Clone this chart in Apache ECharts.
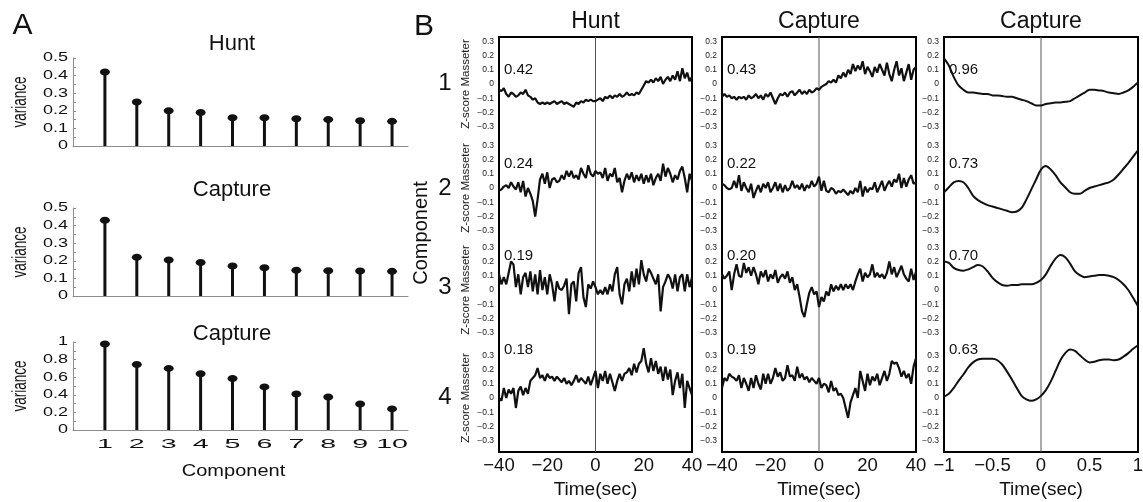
<!DOCTYPE html>
<html><head><meta charset="utf-8">
<script src="https://cdn.jsdelivr.net/npm/echarts/dist/echarts.min.js"></script>
<style>html,body{margin:0;padding:0;background:#fff}#c{width:1143px;height:502px}</style>
</head><body><div id="c"></div>
<script>
// ---------- Panel A data ----------
const components = [1,2,3,4,5,6,7,8,9,10];
const varHunt     = [0.42,0.25,0.20,0.19,0.16,0.16,0.155,0.15,0.144,0.14];
const varCapture  = [0.43,0.22,0.205,0.19,0.17,0.16,0.146,0.144,0.142,0.14];
const varCapture2 = [0.977,0.745,0.70,0.64,0.585,0.49,0.41,0.376,0.296,0.24];
const yTicksSmall = [0,0.1,0.2,0.3,0.4,0.5];
const yTickLabelsSmall = ['0','0.1','0.2','0.3','0.4','0.5'];
const yTicksLarge = [0,0.2,0.4,0.6,0.8,1];
const yTickLabelsLarge = ['0','0.2','0.4','0.6','0.8','1'];
const compLabels = ['1','2','3','4','5','6','7','8','9','10'];

// ---------- Panel B data ----------
const timeSec = [-40,-39,-38,-37,-36,-35,-34,-33,-32,-31,-30,-29,-28,-27,-26,-25,-24,-23,-22,-21,
 -20,-19,-18,-17,-16,-15,-14,-13,-12,-11,-10,-9,-8,-7,-6,-5,-4,-3,-2,-1,
 0,1,2,3,4,5,6,7,8,9,10,11,12,13,14,15,16,17,18,19,20,21,22,23,24,25,26,27,28,29,
 30,31,32,33,34,35,36,37,38,39,40];
const timeShort = [-1,-0.95,-0.9,-0.85,-0.8,-0.75,-0.7,-0.65,-0.6,-0.55,-0.5,-0.45,-0.4,-0.35,-0.3,-0.25,-0.2,-0.15,-0.1,-0.05,
 0,0.05,0.1,0.15,0.2,0.25,0.3,0.35,0.4,0.45,0.5,0.55,0.6,0.65,0.7,0.75,0.8,0.85,0.9,0.95,1];

const huntRow1 = [-0.04,-0.05,-0.03,-0.07,-0.09,-0.06,-0.07,-0.09,-0.08,-0.06,
 -0.07,-0.04,-0.08,-0.09,-0.11,-0.10,-0.13,-0.14,-0.13,-0.14,
 -0.13,-0.14,-0.13,-0.12,-0.14,-0.13,-0.12,-0.14,-0.13,-0.14,
 -0.15,-0.16,-0.13,-0.14,-0.12,-0.13,-0.11,-0.12,-0.11,-0.12,
 -0.12,-0.11,-0.10,-0.12,-0.09,-0.10,-0.08,-0.10,-0.08,-0.09,
 -0.07,-0.09,-0.08,-0.06,-0.08,-0.07,-0.08,-0.06,-0.07,-0.04,
 -0.01,0.02,0.01,0.03,0.01,0.04,0.02,0.05,0.00,0.03,
 0.05,0.02,0.06,0.03,0.09,0.02,0.11,0.04,0.08,0.02,0.05];
const huntRow2 = [-0.02,-0.01,0.01,0.02,0.00,0.04,0.01,-0.01,0.04,-0.03,
 0.05,-0.06,0.00,-0.04,-0.09,-0.20,-0.08,0.06,0.10,0.03,
 0.11,0.00,0.06,0.07,0.04,0.05,0.09,0.06,0.12,0.08,
 0.12,0.07,0.09,0.06,0.14,0.10,0.07,0.16,0.10,0.08,
 0.12,0.10,0.11,0.07,0.14,0.05,0.10,0.08,0.14,0.04,
 0.07,-0.03,0.05,0.10,0.06,0.11,0.04,0.09,0.05,0.10,
 0.03,0.09,0.04,0.10,0.02,0.07,0.10,0.05,0.17,0.08,
 0.14,0.10,0.04,0.09,0.06,0.12,0.15,0.07,-0.03,0.10,0.05];
const huntRow3 = [0.11,0.04,0.09,0.04,0.12,0.20,0.18,0.02,0.11,-0.03,
 0.09,0.12,0.02,0.13,-0.01,0.11,-0.03,0.14,0.00,0.09,
 -0.03,0.11,0.04,-0.08,0.06,0.01,0.00,0.03,0.08,-0.17,
 0.04,0.06,-0.08,0.12,0.16,-0.05,-0.12,0.04,0.01,0.06,
 0.02,-0.03,0.00,-0.03,0.02,-0.03,0.04,-0.01,0.11,0.16,
 -0.03,-0.10,0.04,0.08,-0.01,0.13,0.02,0.15,0.04,0.21,
 0.11,0.06,0.15,0.12,0.08,0.04,0.11,-0.15,0.02,0.06,
 0.11,0.08,0.01,0.11,-0.01,0.09,0.11,-0.01,0.11,0.02,0.09];
const huntRow4 = [0.00,-0.02,0.07,0.00,0.06,0.03,0.07,-0.07,0.05,0.08,
 0.02,0.07,0.03,0.12,0.14,0.16,0.21,0.14,0.16,0.12,
 0.17,0.14,0.15,0.12,0.15,0.13,0.11,0.14,0.10,0.12,
 0.09,0.12,0.16,0.11,0.14,0.12,0.10,0.15,0.09,0.14,
 0.19,0.07,0.17,0.12,0.19,0.10,0.17,0.11,0.05,0.12,
 0.17,0.12,0.17,0.18,0.21,0.16,0.24,0.18,0.24,0.26,
 0.35,0.24,0.18,0.28,0.19,0.26,0.17,0.22,0.12,0.22,
 0.13,0.20,0.02,0.12,0.18,0.07,0.17,-0.07,0.12,0.07,0.02];

const capRow1 = [-0.09,-0.07,-0.09,-0.08,-0.10,-0.09,-0.11,-0.09,-0.10,-0.09,
 -0.11,-0.08,-0.10,-0.09,-0.07,-0.10,-0.08,-0.11,-0.07,-0.09,
 -0.06,-0.10,-0.14,-0.10,-0.07,-0.08,-0.06,-0.09,-0.06,-0.05,
 -0.08,-0.06,-0.04,-0.07,-0.05,-0.07,-0.04,-0.06,-0.05,-0.03,
 -0.04,-0.02,-0.01,0.00,0.02,0.01,0.03,0.01,0.06,0.04,
 0.08,0.05,0.10,0.07,0.14,0.09,0.13,0.10,0.16,0.07,
 0.12,0.09,0.05,0.12,0.08,0.14,0.10,0.06,0.15,0.07,
 0.02,0.10,0.16,0.06,0.11,0.02,0.08,0.14,0.03,0.10,0.12];
const capRow2 = [0.03,0.02,0.00,-0.01,0.00,0.05,0.00,0.09,-0.02,0.04,
 0.00,-0.03,0.03,-0.07,-0.02,0.02,-0.03,0.03,0.00,0.04,
 -0.03,0.00,0.04,-0.02,0.03,-0.03,0.02,-0.02,0.00,0.05,
 0.00,0.02,-0.01,0.03,-0.02,0.02,0.00,0.05,0.01,0.03,
 0.08,-0.02,0.05,-0.02,-0.03,0.00,-0.01,-0.04,-0.02,-0.03,
 -0.01,-0.03,-0.05,-0.02,-0.04,0.00,-0.03,0.05,-0.06,0.01,
 -0.03,0.00,-0.01,0.04,-0.03,0.01,0.05,-0.02,0.02,0.05,
 0.01,0.06,0.04,0.10,0.00,0.07,0.01,0.06,0.09,0.03,0.04];
const capRow3 = [0.11,0.08,0.10,0.13,0.00,0.11,0.18,0.10,0.09,0.19,
 0.12,0.16,0.10,0.16,0.11,0.04,0.13,0.09,0.14,0.06,
 0.11,0.08,0.14,0.05,0.09,0.11,0.08,0.13,0.05,0.09,
 0.00,0.04,-0.05,-0.15,-0.19,-0.10,-0.02,0.02,-0.03,-0.01,
 -0.12,-0.05,-0.08,-0.01,-0.04,0.04,-0.01,0.03,0.00,0.04,
 0.00,0.04,0.01,0.04,0.00,0.06,0.11,0.15,0.06,0.12,
 0.09,0.11,0.18,0.09,0.12,0.09,0.11,0.08,0.12,0.20,
 0.11,0.16,0.09,0.13,0.17,0.11,0.08,0.06,0.15,0.07,0.13];
const capRow4 = [0.07,0.14,0.12,0.17,0.15,0.14,0.12,0.16,0.07,0.14,
 0.10,0.05,0.14,0.07,0.16,0.10,0.06,0.17,0.10,0.17,
 0.10,0.14,0.21,0.15,0.18,0.12,0.14,0.23,0.15,0.16,
 0.12,0.22,0.14,0.17,0.13,0.15,0.11,0.14,0.12,0.10,
 0.14,0.07,0.10,0.09,0.04,0.12,0.05,0.07,0.02,0.03,
 0.00,-0.07,-0.14,-0.03,0.02,0.07,0.00,0.19,0.12,0.05,
 0.17,0.09,0.15,0.12,0.17,0.09,0.14,0.19,0.12,0.17,
 0.26,0.24,0.25,0.21,0.15,0.19,0.14,0.17,0.10,0.22,0.28];

const capShortRow1 = [0.18,0.13,0.05,-0.01,-0.04,-0.06,-0.06,-0.065,-0.07,-0.07,
 -0.08,-0.08,-0.085,-0.09,-0.09,-0.10,-0.11,-0.12,-0.135,-0.15,
 -0.15,-0.14,-0.135,-0.13,-0.13,-0.125,-0.12,-0.10,-0.08,-0.06,
 -0.04,-0.04,-0.045,-0.05,-0.06,-0.065,-0.07,-0.06,-0.045,-0.02,0.01];
const capShortRow2 = [-0.03,0.005,0.04,0.05,0.04,0.0,-0.055,-0.085,-0.105,-0.12,
 -0.13,-0.14,-0.15,-0.16,-0.17,-0.165,-0.14,-0.08,-0.01,0.06,
 0.13,0.155,0.13,0.09,0.04,0.005,-0.03,-0.04,-0.04,-0.02,
 0.0,0.01,0.02,0.03,0.04,0.06,0.095,0.135,0.175,0.22,0.265];
const capShortRow3 = [0.20,0.19,0.155,0.14,0.135,0.145,0.16,0.175,0.165,0.13,
 0.085,0.055,0.035,0.03,0.035,0.035,0.04,0.04,0.04,0.05,
 0.07,0.11,0.17,0.22,0.245,0.23,0.185,0.13,0.105,0.09,
 0.095,0.10,0.105,0.105,0.10,0.09,0.07,0.04,0.0,-0.055,-0.115];
const capShortRow4 = [0.01,0.03,0.07,0.12,0.165,0.215,0.25,0.27,0.275,0.275,
 0.275,0.265,0.235,0.185,0.13,0.07,0.015,-0.01,-0.02,-0.01,
 0.015,0.055,0.115,0.19,0.265,0.315,0.34,0.33,0.30,0.27,
 0.25,0.255,0.265,0.27,0.27,0.265,0.27,0.29,0.315,0.345,0.37];

const huntVarLabels = ['0.42','0.24','0.19','0.18'];
const capVarLabels = ['0.43','0.22','0.20','0.19'];
const capShortVarLabels = ['0.96','0.73','0.70','0.63'];
const rowNames = ['1','2','3','4'];

// ---------- build ----------
const FONT = '"Liberation Sans", Arial, Helvetica, sans-serif';
const INK = '#111';
const grids = [], xAxes = [], yAxes = [], series = [], graphics = [];

function addText(text, x, y, size, opts) {
  opts = opts || {};
  graphics.push({
    type: 'text', x: x, y: y, rotation: opts.rotation || 0,
    scaleX: opts.scaleX || 1, scaleY: opts.scaleY || 1, silent: true, z: 100,
    style: { text: text, fontSize: size, fontFamily: FONT, fill: opts.color || INK,
      align: opts.align || 'center', verticalAlign: 'middle' }
  });
}

// Panel A
const aPanels = [
  { title: 'Hunt', vals: varHunt, top: 58, yMax: 0.5, yInt: 0.1, ticks: yTicksSmall, labels: yTickLabelsSmall, titleY: 43, showX: false },
  { title: 'Capture', vals: varCapture, top: 208, yMax: 0.5, yInt: 0.1, ticks: yTicksSmall, labels: yTickLabelsSmall, titleY: 189, showX: false },
  { title: 'Capture', vals: varCapture2, top: 342, yMax: 1, yInt: 0.2, ticks: yTicksLarge, labels: yTickLabelsLarge, titleY: 333, showX: true }
];
const A_LEFT = 73, A_W = 335, A_H = 88;
aPanels.forEach(function (p) {
  const gi = grids.length;
  grids.push({ left: A_LEFT, top: p.top, width: A_W, height: A_H, outerBoundsMode: 'none' });
  xAxes.push({ gridIndex: gi, type: 'value', min: 0, max: 10.5,
    axisLine: { show: true, onZero: false, lineStyle: { color: '#8c8c8c', width: 1 } },
    axisTick: { show: false }, axisLabel: { show: false }, splitLine: { show: false } });
  yAxes.push({ gridIndex: gi, type: 'value', min: 0, max: p.yMax, interval: p.yInt,
    axisLine: { show: true, lineStyle: { color: '#8c8c8c', width: 1 } },
    axisTick: { show: true, inside: true, length: 3, lineStyle: { color: '#8c8c8c' } },
    minorTick: { show: true, splitNumber: 2, length: 3, lineStyle: { color: '#8c8c8c' } },
    axisLabel: { show: false }, splitLine: { show: false }, minorSplitLine: { show: false } });
  const pts = components.map(function (c, i) { return [c, p.vals[i]]; });
  series.push({ type: 'bar', xAxisIndex: gi, yAxisIndex: gi, data: pts, barWidth: 3,
    itemStyle: { color: INK }, silent: true });
  series.push({ type: 'scatter', xAxisIndex: gi, yAxisIndex: gi, data: pts, symbol: 'circle',
    symbolSize: [10, 7], itemStyle: { color: INK, opacity: 1 }, silent: true, z: 3 });
  const labs = p.labels;
  series.push({ type: 'custom', xAxisIndex: gi, yAxisIndex: gi, silent: true, clip: false,
    data: p.ticks.map(function (v) { return [0, v]; }),
    renderItem: function (params, api) {
      const pt = api.coord([0, api.value(1)]);
      return { type: 'text', x: pt[0] - 5, y: pt[1], scaleX: 1.5,
        style: { text: labs[params.dataIndex], fontSize: 12, fontFamily: FONT, fill: INK,
          align: 'right', verticalAlign: 'middle' } };
    } });
  if (p.showX) {
    series.push({ type: 'custom', xAxisIndex: gi, yAxisIndex: gi, silent: true, clip: false,
      data: components.map(function (c) { return [c, 0]; }),
      renderItem: function (params, api) {
        const pt = api.coord([api.value(0), 0]);
        return { type: 'text', x: pt[0], y: pt[1] + 14, scaleX: 2.2,
          style: { text: compLabels[params.dataIndex], fontSize: 13, fontFamily: FONT, fill: INK,
            align: 'center', verticalAlign: 'middle' } };
      } });
  }
  addText(p.title, 232, p.titleY + 1, 22);
  addText('variance', 20.5, p.top + A_H / 2, 13.5, { rotation: Math.PI / 2, scaleY: 1.5 });
});
addText('Component', 233.5, 472, 16, { scaleX: 1.25 });
addText('A', 22.5, 26, 30);

// Panel B
const bCols = [
  { title: 'Hunt', left: 499, width: 193, t: timeSec, rows: [huntRow1, huntRow2, huntRow3, huntRow4],
    xmin: -40, xmax: 40, xint: 20, varLabels: huntVarLabels, lw: 2.2, smooth: false, yName: true },
  { title: 'Capture', left: 722, width: 194, t: timeSec, rows: [capRow1, capRow2, capRow3, capRow4],
    xmin: -40, xmax: 40, xint: 20, varLabels: capVarLabels, lw: 2.2, smooth: false, yName: false },
  { title: 'Capture', left: 944, width: 194, t: timeShort, rows: [capShortRow1, capShortRow2, capShortRow3, capShortRow4],
    xmin: -1, xmax: 1, xint: 0.5, varLabels: capShortVarLabels, lw: 2, smooth: 0.3, yName: false }
];
const B_TOP = 37, B_H = 415;
const rowZero = [84, 188, 290, 398];
const ROW_HALF = 42.75;
const varLabelY = [70, 164, 256, 350];
const fmtNum = function (v) {
  if (Math.abs(v) < 1e-9) return '0';
  const s = String(Math.round(Math.abs(v) * 100) / 100);
  return (v < 0 ? '\u2212' : '') + s;
};
const fmtZ = function (v) {
  if (Math.abs(v) < 1e-9) return '0';
  return (v < 0 ? '\u2212' : '') + Math.abs(v).toFixed(1);
};

bCols.forEach(function (c) {
  const fi = grids.length;
  grids.push({ left: c.left, top: B_TOP, width: c.width, height: B_H, show: true,
    borderColor: '#000', borderWidth: 2, backgroundColor: 'transparent', outerBoundsMode: 'none' });
  xAxes.push({ gridIndex: fi, type: 'value', min: c.xmin, max: c.xmax, interval: c.xint,
    axisLine: { show: false }, axisTick: { show: false }, splitLine: { show: false },
    axisLabel: { fontSize: 18.5, fontFamily: FONT, color: INK, margin: 4, formatter: fmtNum, hideOverlap: false },
    name: 'Time(sec)', nameLocation: 'middle', nameGap: 27,
    nameTextStyle: { fontSize: 19, fontFamily: FONT, color: INK } });
  yAxes.push({ gridIndex: fi, type: 'value', min: 0, max: 1, show: false });
  series.push({ type: 'line', xAxisIndex: fi, yAxisIndex: fi, data: [[0, 0], [0, 1]],
    showSymbol: false, symbol: 'none', lineStyle: { color: '#555', width: 1 }, silent: true, z: 1 });
  addText(c.title, c.left + c.width / 2, 22, 23);

  c.rows.forEach(function (vals, r) {
    const gi = grids.length;
    grids.push({ left: c.left, top: rowZero[r] - ROW_HALF, width: c.width, height: ROW_HALF * 2, outerBoundsMode: 'none' });
    xAxes.push({ gridIndex: gi, type: 'value', min: c.xmin, max: c.xmax, show: false });
    const ya = { gridIndex: gi, type: 'value', min: -0.3, max: 0.3, interval: 0.1,
      axisLine: { show: false }, axisTick: { show: false }, splitLine: { show: false },
      axisLabel: { fontSize: 8.5, fontFamily: FONT, color: '#222', margin: 5, formatter: fmtZ } };
    if (c.yName) {
      ya.name = 'Z-score Masseter'; ya.nameLocation = 'middle'; ya.nameRotate = 90; ya.nameGap = 27;
      ya.nameTextStyle = { fontSize: 11.5, fontFamily: FONT, color: '#222' };
    }
    yAxes.push(ya);
    series.push({ type: 'line', xAxisIndex: gi, yAxisIndex: gi,
      data: c.t.map(function (x, i) { return [x, vals[i]]; }),
      showSymbol: false, symbol: 'none', smooth: c.smooth, clip: false, silent: true, z: 2,
      lineStyle: { color: INK, width: c.lw } });
    addText(c.varLabels[r], c.left + 5, varLabelY[r], 15, { align: 'left' });
  });
});
const rowNumY = [83, 188, 287, 397];
rowNames.forEach(function (n, r) { addText(n, 445, rowNumY[r], 24); });
addText('Component', 421, 233, 20, { rotation: Math.PI / 2 });
addText('B', 424, 27, 30);

const chart = echarts.init(document.getElementById('c'), null, { renderer: 'canvas' });
chart.setOption({
  animation: false,
  backgroundColor: '#fff',
  grid: grids, xAxis: xAxes, yAxis: yAxes, series: series, graphic: graphics
});
</script></body></html>
